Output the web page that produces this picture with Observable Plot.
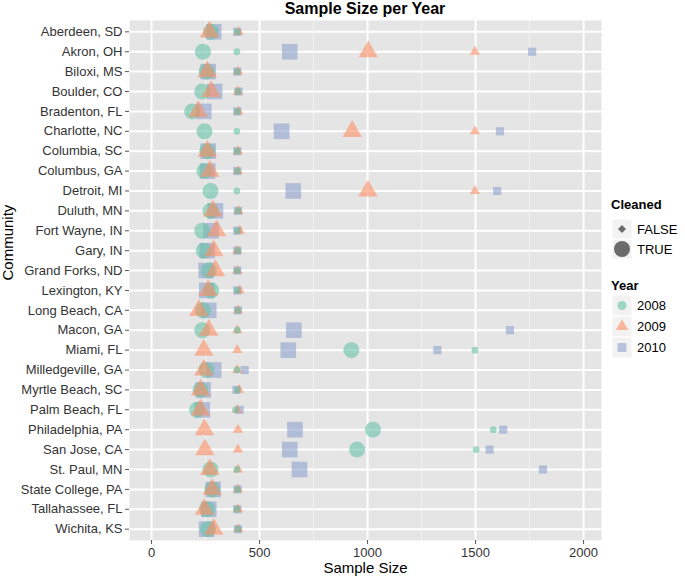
<!DOCTYPE html>
<html>
<head>
<meta charset="utf-8">
<script src="https://cdn.jsdelivr.net/npm/d3@7"></script>
<script src="https://cdn.jsdelivr.net/npm/@observablehq/plot@0.6"></script>
<style>
  body { margin: 0; background: white; }
  #wrap { position: relative; width: 685px; height: 580px; font-family: "Liberation Sans", Arial, sans-serif; }
  #title { position: absolute; top: 0; left: 129px; width: 472px; text-align: center; font-weight: bold; font-size: 16px; line-height: 18px; color: #000; }
  #chart { position: absolute; top: 20px; left: 0; }
  #legend { position: absolute; left: 600px; top: 195px; }
</style>
</head>
<body>
<div id="wrap">
  <div id="title">Sample Size per Year</div>
  <div id="chart"></div>
  <div id="legend"></div>
</div>
<script>
const communities = ["Aberdeen, SD","Akron, OH","Biloxi, MS","Boulder, CO","Bradenton, FL","Charlotte, NC","Columbia, SC","Columbus, GA","Detroit, MI","Duluth, MN","Fort Wayne, IN","Gary, IN","Grand Forks, ND","Lexington, KY","Long Beach, CA","Macon, GA","Miami, FL","Milledgeville, GA","Myrtle Beach, SC","Palm Beach, FL","Philadelphia, PA","San Jose, CA","St. Paul, MN","State College, PA","Tallahassee, FL","Wichita, KS"];
const years = ["2008", "2009", "2010"];
const cleanedLevels = ["FALSE", "TRUE"];

// Sample sizes (Cleaned = TRUE / FALSE) per year, in community order
const cleaned2008 = [275,238,255,235,188,245,258,245,273,273,235,242,265,276,239,235,925,254,227,211,1025,952,273,281,258,262];
const raw2008     = [397,395,397,400,397,395,397,397,395,400,397,400,397,397,400,397,1497,395,397,389,1582,1503,395,398,395,400];
const cleaned2009 = [268,1003,258,276,216,929,258,270,1002,284,301,288,296,262,219,265,242,242,227,227,245,247,270,281,245,288];
const raw2009     = [403,1497,400,400,402,1497,400,400,1497,403,409,397,397,408,400,397,397,397,405,397,400,400,400,400,400,402];
const cleaned2010 = [288,640,262,292,242,602,262,260,656,296,276,258,253,256,265,659,633,288,239,235,664,640,685,285,265,255];
const raw2010     = [397,1762,397,403,397,1613,397,397,1600,400,397,397,397,397,400,1659,1323,431,393,408,1628,1565,1812,398,397,400];

const xTicks = [0, 500, 1000, 1500, 2000];
const xMinor = [250, 750, 1250, 1750];

const colors = ["#66C2A5", "#FC8D62", "#8DA0CB"];
const symbols = ["circle", "triangle", "square"];

const series = [
  {year: "2008", cleaned: cleaned2008, raw: raw2008},
  {year: "2009", cleaned: cleaned2009, raw: raw2009},
  {year: "2010", cleaned: cleaned2010, raw: raw2010}
];
const data = [];
for (const s of series) {
  communities.forEach((c, i) => {
    data.push({community: c, year: s.year, cleaned: "TRUE", value: s.cleaned[i]});
    data.push({community: c, year: s.year, cleaned: "FALSE", value: s.raw[i]});
  });
}
// symbol radius by shape and size class (ggplot shapes differ in extent)
const radius = (d) => {
  const big = d.cleaned === "TRUE";
  if (d.year === "2008") return big ? 8 : 3.4;
  if (d.year === "2009") return big ? 7.2 : 3.8;
  return big ? 8.8 : 4.6;
};

const chart = Plot.plot({
  width: 685,
  height: 560,
  marginLeft: 129,
  marginRight: 84,
  marginTop: 0,
  marginBottom: 40,
  style: {fontFamily: '"Liberation Sans", Arial, sans-serif', fontSize: "13px", background: "white", overflow: "visible"},
  x: {domain: [-102, 2083], label: null},
  y: {type: "point", domain: communities, padding: 0.57, round: false, label: null},
  r: {type: "identity"},
  color: {domain: years, range: colors},
  symbol: {domain: years, range: symbols},
  marks: [
    Plot.frame({fill: "#E5E5E5", stroke: null}),
    Plot.ruleX(xMinor, {stroke: "#F2F2F2", strokeWidth: 1}),
    Plot.ruleX(xTicks, {stroke: "white", strokeWidth: 2}),
    Plot.ruleY(communities, {y: d => d, stroke: "white", strokeWidth: 2}),
    Plot.dot(data, {x: "value", y: "community", symbol: "year", fill: "year", r: radius, fillOpacity: 0.6, stroke: null}),
    Plot.axisX({ticks: xTicks, tickFormat: d => String(d), tickSize: 4, tickPadding: 3, stroke: "#555", fill: "#333", fontSize: 13, label: null}),
    Plot.axisY({tickSize: 4, tickPadding: 3, stroke: "#555", fill: "#333", fontSize: 13, label: null}),
    Plot.text(["Sample Size"], {frameAnchor: "bottom", dy: 32, fontSize: 15, fill: "#000"}),
    Plot.text(["Community"], {frameAnchor: "left", dx: -121, rotate: -90, fontSize: 15, fill: "#000"})
  ]
});
document.getElementById("chart").appendChild(chart);

// Legend
const lg = d3.select("#legend").append("svg").attr("width", 85).attr("height", 170)
  .style("font-family", '"Liberation Sans", Arial, sans-serif').style("overflow", "visible");
const ox = 12; // key left
lg.append("text").attr("x", 11).attr("y", 14).attr("font-size", 13).attr("font-weight", "bold").text("Cleaned");
const cleanedKeys = [{label: "FALSE", r: 3.2}, {label: "TRUE", r: 8}];
cleanedKeys.forEach((k, i) => {
  const y0 = 24 + i * 20;
  lg.append("rect").attr("x", ox).attr("y", y0).attr("width", 20).attr("height", 20).attr("fill", "#F2F2F2").attr("stroke", "white");
  lg.append("path").attr("transform", `translate(${ox + 10},${y0 + 10})` + (i === 0 ? " rotate(45)" : ""))
    .attr("d", d3.symbol(i === 0 ? d3.symbolSquare : d3.symbolCircle, Math.PI * k.r * k.r)())
    .attr("fill", "#6B6B6B");
  lg.append("text").attr("x", ox + 25).attr("y", y0 + 10).attr("dy", "0.35em").attr("font-size", 13).attr("fill", "#000").text(k.label);
});
lg.append("text").attr("x", 11).attr("y", 95).attr("font-size", 13).attr("font-weight", "bold").text("Year");
const yearSyms = [d3.symbolCircle, d3.symbolTriangle, d3.symbolSquare];
const yearR = [4.6, 4.6, 5];
years.forEach((y, i) => {
  const y0 = 100 + i * 21;
  lg.append("rect").attr("x", ox).attr("y", y0).attr("width", 20).attr("height", 21).attr("fill", "#F2F2F2").attr("stroke", "white");
  lg.append("path").attr("transform", `translate(${ox + 10},${y0 + 10.5})`)
    .attr("d", d3.symbol(yearSyms[i], Math.PI * yearR[i] * yearR[i])())
    .attr("fill", colors[i]).attr("fill-opacity", 0.6);
  lg.append("text").attr("x", ox + 25).attr("y", y0 + 10.5).attr("dy", "0.35em").attr("font-size", 13).attr("fill", "#000").text(y);
});
</script>
</body>
</html>
